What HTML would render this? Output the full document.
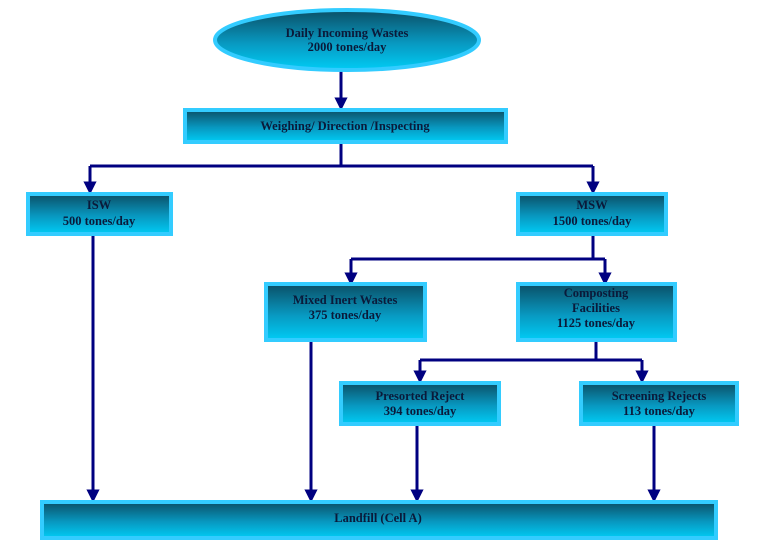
<!DOCTYPE html>
<html><head><meta charset="utf-8"><style>body{margin:0;background:#fff}</style></head><body>
<svg width="765" height="547" xmlns="http://www.w3.org/2000/svg" font-family="Liberation Serif, serif" font-weight="bold" font-size="12.5" fill="#0a1a3a">
<defs>
<linearGradient id="g" x1="0" y1="0" x2="0" y2="1"><stop offset="0" stop-color="#0b4f66"/><stop offset="0.55" stop-color="#0898c0"/><stop offset="1" stop-color="#00ccf5"/></linearGradient>
<marker id="a" markerWidth="4.4" markerHeight="4.4" refX="2.2" refY="2.2" orient="auto" markerUnits="strokeWidth"><path d="M0,0 L4.4,2.2 L0,4.4 z" fill="#000080"/></marker>
</defs>
<g stroke="#000080" stroke-width="3" fill="none">
<line x1="341" y1="70" x2="341" y2="104" marker-end="url(#a)"/>
<polyline points="341,144 341,166"/>
<polyline points="90,166 593,166"/>
<line x1="90" y1="166" x2="90" y2="188" marker-end="url(#a)"/>
<line x1="593" y1="166" x2="593" y2="188" marker-end="url(#a)"/>
<line x1="93" y1="236" x2="93" y2="496" marker-end="url(#a)"/>
<polyline points="593,236 593,259"/>
<polyline points="351,259 605,259"/>
<line x1="351" y1="259" x2="351" y2="279" marker-end="url(#a)"/>
<line x1="605" y1="259" x2="605" y2="279" marker-end="url(#a)"/>
<line x1="311" y1="342" x2="311" y2="496" marker-end="url(#a)"/>
<polyline points="596,342 596,360"/>
<polyline points="420,360 642,360"/>
<line x1="420" y1="360" x2="420" y2="377" marker-end="url(#a)"/>
<line x1="642" y1="360" x2="642" y2="377" marker-end="url(#a)"/>
<line x1="417" y1="426" x2="417" y2="496" marker-end="url(#a)"/>
<line x1="654" y1="426" x2="654" y2="496" marker-end="url(#a)"/>
</g>
<g stroke="#33ccff" stroke-width="4" fill="url(#g)">
<ellipse cx="347" cy="40" rx="132" ry="30"/>
<rect x="185" y="110" width="321" height="32"/>
<rect x="28" y="194" width="143" height="40"/>
<rect x="518" y="194" width="148" height="40"/>
<rect x="266" y="284" width="159" height="56"/>
<rect x="518" y="284" width="157" height="56"/>
<rect x="341" y="383" width="158" height="41"/>
<rect x="581" y="383" width="156" height="41"/>
<rect x="42" y="502" width="674" height="36"/>
</g>
<g text-anchor="middle">
<text x="347" y="37">Daily Incoming Wastes</text><text x="347" y="51">2000 tones/day</text>
<text x="345" y="130">Weighing/ Direction  /Inspecting</text>
<text x="99" y="209">ISW</text><text x="99" y="225">500 tones/day</text>
<text x="592" y="209">MSW</text><text x="592" y="225">1500 tones/day</text>
<text x="345" y="304">Mixed Inert Wastes</text><text x="345" y="319">375 tones/day</text>
<text x="596" y="297">Composting</text><text x="596" y="312">Facilities</text><text x="596" y="327">1125 tones/day</text>
<text x="420" y="400">Presorted Reject</text><text x="420" y="415">394 tones/day</text>
<text x="659" y="400">Screening Rejects</text><text x="659" y="415">113 tones/day</text>
<text x="378" y="522">Landfill (Cell A)</text>
</g>
</svg>
</body></html>
